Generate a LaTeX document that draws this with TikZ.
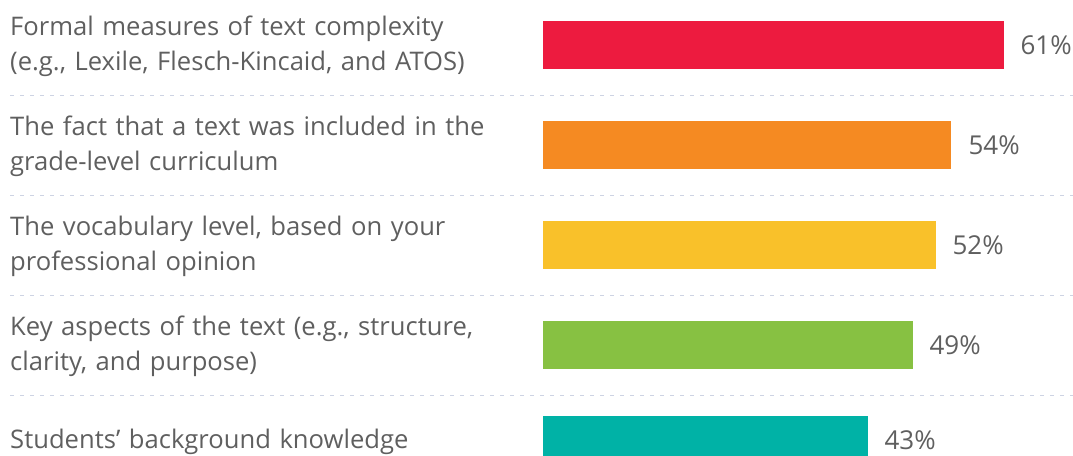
\documentclass[tikz,border=0pt]{standalone}
\usepackage{fontspec}
\setmainfont{Open Sans}
\usetikzlibrary{positioning}

\definecolor{txtgray}{HTML}{5F5F5F}
\definecolor{dashgray}{HTML}{CDD3E3}
\definecolor{barred}{HTML}{ED1B3F}
\definecolor{barorange}{HTML}{F58A22}
\definecolor{baryellow}{HTML}{F9C12A}
\definecolor{bargreen}{HTML}{87C142}
\definecolor{barteal}{HTML}{00B2A6}

\tikzset{
  label text/.style={anchor=base west, inner sep=0pt, text width=520pt, align=left,
    text=txtgray, font=\fontsize{25.6}{35}\selectfont},
  bar/.style={anchor=west, inner sep=0pt, minimum height=48pt},
  pct/.style={inner sep=0pt, text=txtgray, font=\fontsize{26}{32}\selectfont},
  sep line/.style={dashgray, line width=1pt, dash pattern=on 4pt off 6pt}
}

\begin{document}
\begin{tikzpicture}[x=1pt,y=-1pt]
\useasboundingbox (0,0) rectangle (1073,455);

\coordinate (sepa) at (10,95);
\coordinate (sepb) at (10,195);
\coordinate (sepc) at (10,295);
\coordinate (sepd) at (10,395);
\coordinate (sepaend) at (1073,95);
\coordinate (sepbend) at (1073,195);
\coordinate (sepcend) at (1073,295);
\coordinate (sepdend) at (1073,395);

\draw[sep line] (sepa) -- (sepaend);
\draw[sep line] (sepb) -- (sepbend);
\draw[sep line] (sepc) -- (sepcend);
\draw[sep line] (sepd) -- (sepdend);

\node[label text] (texta) at (10,35) {Formal measures of text complexity\\(e.g., Lexile, Flesch-Kincaid, and ATOS)};
\node[label text] (textb) at (10,135) {The fact that a text was included in the\\grade-level curriculum};
\node[label text] (textc) at (10,235) {The vocabulary level, based on your\\professional opinion};
\node[label text] (textd) at (10,335) {Key aspects of the text (e.g., structure,\\clarity, and purpose)};
\node[label text] (texte) at (10,448) {Students’ background knowledge};

\node[bar, fill=barred, minimum width=461pt] (bara) at (543,45) {};
\node[bar, fill=barorange, minimum width=408pt] (barb) at (543,145) {};
\node[bar, fill=baryellow, minimum width=393pt] (barc) at (543,245) {};
\node[bar, fill=bargreen, minimum width=370pt] (bard) at (543,345) {};
\node[bar, fill=barteal, minimum width=325pt] (bare) at (543,440) {};

\node[pct, right=16pt of bara] (pcta) {61\%};
\node[pct, right=17pt of barb] (pctb) {54\%};
\node[pct, right=16pt of barc] (pctc) {52\%};
\node[pct, right=16pt of bard] (pctd) {49\%};
\node[pct, right=16pt of bare] (pcte) {43\%};
\end{tikzpicture}
\end{document}
